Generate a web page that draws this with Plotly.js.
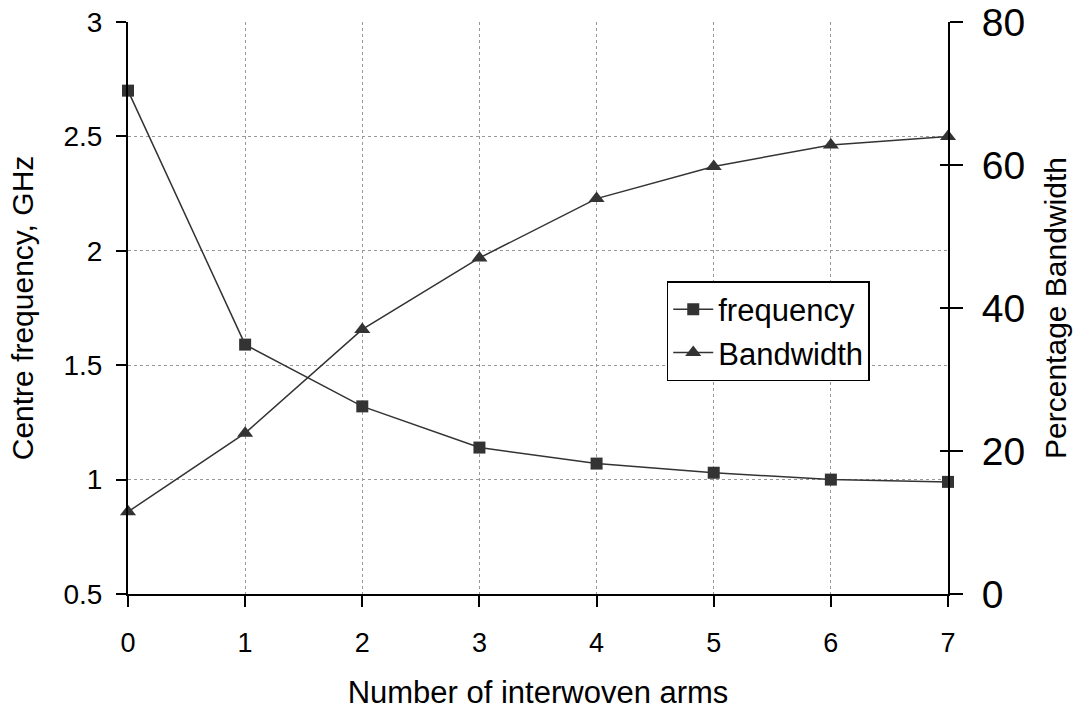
<!DOCTYPE html>
<html>
<head>
<meta charset="utf-8">
<script src="https://cdn.plot.ly/plotly-3.0.1.min.js"></script>
<style>html,body{margin:0;padding:0;background:#fff;}#chart{width:1083px;height:718px;}</style>
</head>
<body>
<div id="chart"></div>
<script>
const arms = [0, 1, 2, 3, 4, 5, 6, 7];
const frequency = [2.70, 1.59, 1.32, 1.14, 1.07, 1.03, 1.00, 0.99];
const bandwidth = [11.5, 22.5, 37.0, 47.0, 55.3, 59.8, 62.8, 64.0];
const xTicks = [0, 1, 2, 3, 4, 5, 6, 7];
const leftTicks = [0.5, 1, 1.5, 2, 2.5, 3];
const leftTickText = ["0.5", "1", "1.5", "2", "2.5", "3"];
const rightTicks = [0, 20, 40, 60, 80];

const font = "Liberation Sans, Arial, sans-serif";
const dark = "#333333";

const traces = [
  {
    x: arms, y: frequency, name: "frequency", type: "scatter", mode: "lines+markers",
    line: {color: dark, width: 1.5},
    marker: {symbol: "square", size: 12, color: dark},
    yaxis: "y", cliponaxis: false
  },
  {
    x: arms, y: bandwidth, name: "Bandwidth", type: "scatter", mode: "lines+markers",
    line: {color: dark, width: 1.5},
    marker: {symbol: "triangle-up", size: 14, color: dark},
    yaxis: "y2", cliponaxis: false
  },
  {x: [], y: [], yaxis: "y3", showlegend: false, hoverinfo: "skip"}
];

const layout = {
  width: 1083, height: 718,
  margin: {l: 128, r: 135, t: 22, b: 124},
  paper_bgcolor: "#fff", plot_bgcolor: "#fff",
  font: {family: font, color: "#000"},
  showlegend: true,
  legend: {
    x: 0.657, y: 0.547, xanchor: "left", yanchor: "top",
    bgcolor: "#fff", bordercolor: "#000", borderwidth: 1.5,
    font: {size: 31, family: font},
    tracegroupgap: 0, itemwidth: 40
  },
  xaxis: {
    range: [0, 7], tickvals: xTicks, ticktext: xTicks.map(String),
    showgrid: true, gridcolor: "#999", griddash: "dot", gridwidth: 1,
    zeroline: false, showline: true, linecolor: "#000", linewidth: 2,
    ticks: "outside", ticklen: 11, tickwidth: 2, tickcolor: "#000",
    ticklabelstandoff: 13,
    tickfont: {size: 27, family: font},
    title: {text: "Number of interwoven arms", font: {size: 31, family: font}, standoff: 24}
  },
  yaxis: {
    range: [0.5, 3], tickvals: leftTicks, ticktext: leftTickText,
    showgrid: true, gridcolor: "#999", griddash: "dot", gridwidth: 1,
    zeroline: false, showline: true, linecolor: "#000", linewidth: 2,
    ticks: "outside", ticklen: 10, tickwidth: 2, tickcolor: "#000",
    ticklabelstandoff: 8,
    tickfont: {size: 28, family: font},
    title: {text: "Centre frequency, GHz", font: {size: 30, family: font}, standoff: 21}
  },
  yaxis2: {
    overlaying: "y", side: "right", anchor: "x",
    range: [0, 80], tickvals: rightTicks, ticktext: rightTicks.map(String),
    showgrid: false, zeroline: false, showline: true, linecolor: "#000", linewidth: 2,
    ticks: "outside", ticklen: 13, tickwidth: 2, tickcolor: "#000",
    ticklabelstandoff: 11,
    tickfont: {size: 39, family: font},
    title: {text: "Percentage Bandwidth", font: {size: 30, family: font}, standoff: 21}
  },
  yaxis3: {
    overlaying: "y", side: "right", anchor: "x",
    range: [0, 80], tickvals: rightTicks, showticklabels: false,
    showgrid: false, zeroline: false, showline: false,
    ticks: "inside", ticklen: 8, tickwidth: 2, tickcolor: "#000"
  }
};

Plotly.newPlot("chart", traces, layout, {staticPlot: true, displayModeBar: false});
</script>
</body>
</html>
